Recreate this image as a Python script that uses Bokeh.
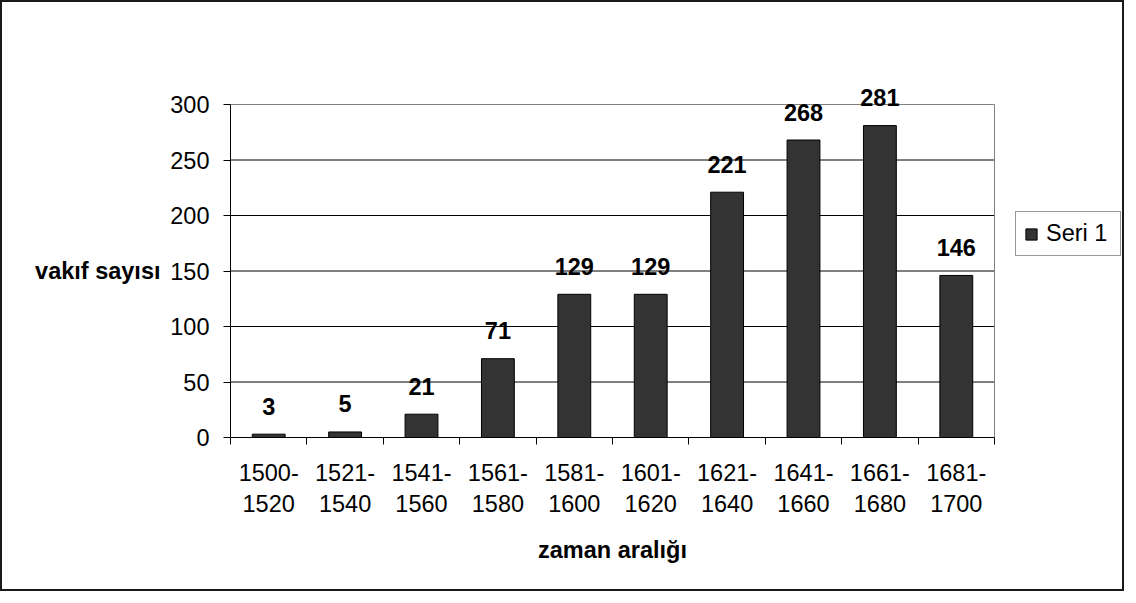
from bokeh.plotting import figure
from bokeh.models import (ColumnDataSource, FixedTicker, LinearAxis, Range1d,
                          LabelSet, Label, Legend, LegendItem)
from bokeh.core.properties import value
from bokeh.embed import file_html
from bokeh.resources import INLINE

categories = ["1500-1520", "1521-1540", "1541-1560", "1561-1580", "1581-1600",
              "1601-1620", "1621-1640", "1641-1660", "1661-1680", "1681-1700"]
counts = [3, 5, 21, 71, 129, 129, 221, 268, 281, 146]
y_ticks = [0, 50, 100, 150, 200, 250, 300]
series_name = "Seri 1"
x_title = "zaman aralığı"
y_title = "vakıf sayısı"

FONT = "Liberation Sans"
FS = "23.5px"

# layout (page pixels)
W, H = 1124, 591
X0, Y0 = 10, 10                      # canvas origin on page (margin + border)
PA_L, PA_R, PA_T, PA_B = 238, 1002, 112, 445
n = len(categories)
ymax = y_ticks[-1]
kx = (PA_R - PA_L) / n
ky = (PA_B - PA_T) / ymax
x_start = (X0 - PA_L) / kx
x_end = (X0 + W - PA_L) / kx
y_end = (PA_B - Y0) / ky
y_start = (PA_B - (Y0 + H)) / ky

x_pos = [i + 0.5 for i in range(n)]
boundaries = list(range(n + 1))
label_overrides = {x: c.replace("-", "-\n") for x, c in zip(x_pos, categories)}

source = ColumnDataSource(dict(x=x_pos, count=counts, label=[str(c) for c in counts]))

p = figure(width=W, height=H, x_range=Range1d(x_start, x_end),
           y_range=Range1d(y_start, y_end), output_backend="svg",
           toolbar_location=None, x_axis_type=None, y_axis_type=None,
           min_border=0, min_border_left=0, min_border_right=0,
           min_border_top=0, min_border_bottom=0)
p.styles = {"border": "2px solid #1a1a1a"}
p.outline_line_color = None
p.background_fill_color = "white"
p.border_fill_color = "white"

# gridlines (black) and plot-area border (gray)
inner = y_ticks[1:-1]
p.segment(x0=[0] * len(inner), x1=[n] * len(inner), y0=inner, y1=inner,
          line_color="black", line_width=1)
p.segment(x0=[0, n], x1=[n, n], y0=[ymax, 0], y1=[ymax, ymax],
          line_color="#808080", line_width=1)

yaxis = LinearAxis(ticker=FixedTicker(ticks=y_ticks), fixed_location=0, bounds=(0, ymax),
                   major_tick_out=7, major_tick_in=0,
                   minor_tick_out=0, minor_tick_in=0,
                   major_label_standoff=14,
                   major_label_text_font=FONT, major_label_text_font_size=FS,
                   major_label_text_color="black",
                   axis_line_color="black", major_tick_line_color="black")
p.add_layout(yaxis, "left")

xaxis = LinearAxis(ticker=FixedTicker(ticks=x_pos, minor_ticks=boundaries),
                   fixed_location=0, bounds=(0, n),
                   major_tick_out=0, major_tick_in=0,
                   minor_tick_out=7, minor_tick_in=0,
                   minor_tick_line_color="black",
                   major_label_overrides=label_overrides,
                   major_label_standoff=15,
                   major_label_text_font=FONT, major_label_text_font_size=FS,
                   major_label_text_color="black",
                   axis_line_color="black")
p.add_layout(xaxis, "below")

r = p.vbar(x="x", top="count", width=0.43, source=source,
           fill_color="#333333", line_color="black", line_width=1)

labels = LabelSet(x="x", y="count", text="label", source=source,
                  y_offset=28, text_align="center", text_baseline="middle",
                  text_font=value(FONT), text_font_size=value(FS),
                  text_font_style="bold", text_color="black")
p.add_layout(labels)

p.add_layout(Label(x=n / 2, y=(PA_B - 557) / ky, text=x_title,
                   text_align="center", text_baseline="middle",
                   text_font=FONT, text_font_size=FS, text_font_style="bold",
                   text_color="black"))
p.add_layout(Label(x=(168 - PA_L) / kx, y=ymax / 2, text=y_title,
                   text_align="right", text_baseline="middle",
                   text_font=FONT, text_font_size=FS, text_font_style="bold",
                   text_color="black"))

legend = Legend(items=[LegendItem(label=series_name, renderers=[r])],
                location=(1023 - X0, (Y0 + H) - 264), orientation="vertical",
                glyph_width=14, glyph_height=14, label_standoff=8,
                padding=8, margin=0, spacing=0, label_height=22, label_width=66,
                label_text_font=FONT, label_text_font_size=FS,
                label_text_color="black",
                border_line_color="#333333", border_line_width=1,
                background_fill_color="white", background_fill_alpha=1)
p.add_layout(legend)

open("out.html", "w").write(file_html(p, INLINE))
